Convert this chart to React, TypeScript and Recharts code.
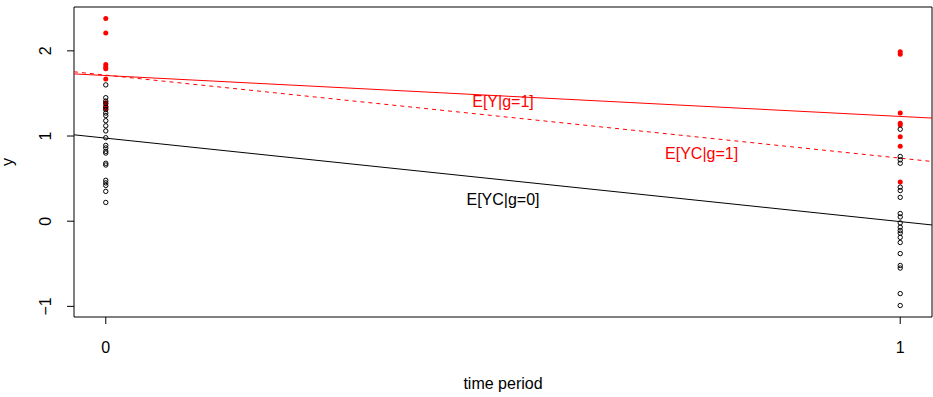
import React from "react";
import {
  ScatterChart,
  Scatter,
  XAxis,
  YAxis,
  ReferenceLine,
  ReferenceArea,
  ReferenceDot,
  Label,
} from "recharts";

// time periods on the x axis
const periods = [0, 1];

// observed outcomes, treated group (g=1)
const treatedAt0 = [2.38, 2.21, 1.84, 1.81, 1.79, 1.67, 1.39, 1.35, 1.32];
const treatedAt1 = [1.99, 1.96, 1.27, 1.15, 1.13, 0.99, 0.88, 0.46];

// observed outcomes, control group (g=0)
const controlAt0 = [
  1.6, 1.45, 1.41, 1.38, 1.34, 1.31, 1.27, 1.24, 1.18, 1.12, 1.06, 0.98,
  0.89, 0.86, 0.82, 0.8, 0.68, 0.66, 0.48, 0.45, 0.42, 0.35, 0.22,
];
const controlAt1 = [
  1.08, 0.76, 0.72, 0.68, 0.4, 0.36, 0.28, 0.09, 0.05, -0.02, -0.07, -0.11,
  -0.14, -0.19, -0.25, -0.38, -0.52, -0.55, -0.85, -0.99,
];

// fitted lines: E[Y|g=1], E[YC|g=1], E[YC|g=0]
const lineNames = ["E[Y|g=1]", "E[YC|g=1]", "E[YC|g=0]"];
const lineIntercepts = [1.71, 1.715, 0.975];
const lineSlopes = [-0.48, -0.975, -0.98];
const labelX = [0.5, 0.75, 0.5];
const labelY = [1.4, 0.8, 0.25];

const yTicks = [-1, 0, 1, 2];

// R-style axis limits (data range padded by 4%)
const allY = [...treatedAt0, ...treatedAt1, ...controlAt0, ...controlAt1];
const yLo = Math.min(...allY);
const yHi = Math.max(...allY);
const yPad = (yHi - yLo) * 0.04;
const yDomain: [number, number] = [yLo - yPad, yHi + yPad];
const xPad = (periods[1] - periods[0]) * 0.04;
const xDomain: [number, number] = [periods[0] - xPad, periods[1] + xPad];

const toPoints = (vals: number[], t: number) => vals.map((y) => ({ x: t, y }));
const treatedPoints = [...toPoints(treatedAt0, periods[0]), ...toPoints(treatedAt1, periods[1])];
const controlPoints = [...toPoints(controlAt0, periods[0]), ...toPoints(controlAt1, periods[1])];

const FONT = "'Liberation Sans', Arial, Helvetica, sans-serif";
const lineColors = ["#ff0000", "#ff0000", "#000000"];
const lineDash = [undefined, "4 4", undefined];

const OpenDot = (p: any) => (
  <circle cx={p.cx} cy={p.cy} r={2.2} fill="none" stroke="#000" strokeWidth={1} />
);
const RedDot = (p: any) => <circle cx={p.cx} cy={p.cy} r={2.5} fill="#ff0000" />;

const XTick = ({ x, y, payload }: any) => (
  <text x={x} y={y + 27} textAnchor="middle" fontSize={16} fontFamily={FONT} fill="#000">
    {payload.value}
  </text>
);

const YTick = ({ x, y, payload }: any) => {
  const bx = x - 13.5;
  return (
    <text
      x={bx}
      y={y}
      textAnchor="middle"
      transform={`rotate(-90, ${bx}, ${y})`}
      fontSize={16}
      fontFamily={FONT}
      fill="#000"
    >
      {String(payload.value).replace("-", "\u2212")}
    </text>
  );
};

const YLabel = ({ viewBox }: any) => {
  const cx = 13;
  const cy = viewBox.y + viewBox.height / 2;
  return (
    <text
      x={cx}
      y={cy}
      textAnchor="middle"
      transform={`rotate(-90, ${cx}, ${cy})`}
      fontSize={16}
      fontFamily={FONT}
      fill="#000"
    >
      y
    </text>
  );
};

export default function App() {
  return (
    <div style={{ position: "absolute", left: 0, top: 0, background: "#fff" }}>
      <ScatterChart
        width={933}
        height={397}
        margin={{ top: 7, right: 1, bottom: 0, left: 0 }}
        style={{ fontFamily: FONT }}
      >
        <XAxis
          dataKey="x"
          type="number"
          domain={xDomain}
          ticks={periods}
          allowDataOverflow
          axisLine={false}
          tickSize={7}
          tickMargin={2}
          tickLine={{ stroke: "#000" }}
          tick={<XTick />}
          height={80}
        >
          <Label
            value="time period"
            position="insideBottom"
            offset={8}
            fontSize={16}
            fontFamily={FONT}
            fill="#000"
          />
        </XAxis>
        <YAxis
          dataKey="y"
          type="number"
          domain={yDomain}
          ticks={yTicks}
          allowDataOverflow
          axisLine={false}
          tickSize={7}
          tickMargin={2}
          tickLine={{ stroke: "#000" }}
          tick={<YTick />}
          width={74}
        >
          <Label content={<YLabel />} />
        </YAxis>
        <ReferenceArea
          x1={xDomain[0]}
          x2={xDomain[1]}
          y1={yDomain[0]}
          y2={yDomain[1]}
          fill="none"
          fillOpacity={0}
          stroke="#000"
          strokeWidth={1}
        />
        <Scatter data={treatedPoints} shape={RedDot} isAnimationActive={false} />
        <Scatter data={controlPoints} shape={OpenDot} isAnimationActive={false} />
        {lineNames.map((name, i) => (
          <ReferenceLine
            key={name}
            segment={[
              { x: xDomain[0], y: lineIntercepts[i] + lineSlopes[i] * xDomain[0] },
              { x: xDomain[1], y: lineIntercepts[i] + lineSlopes[i] * xDomain[1] },
            ]}
            stroke={lineColors[i]}
            strokeWidth={1}
            strokeDasharray={lineDash[i]}
          />
        ))}
        {lineNames.map((name, i) => (
          <ReferenceDot
            key={"lbl" + name}
            x={labelX[i]}
            y={labelY[i]}
            r={0}
            shape={(p: any) => (
              <text
                x={p.cx}
                y={p.cy}
                textAnchor="middle"
                dominantBaseline="central"
                fontSize={16}
                fontFamily={FONT}
                fill={lineColors[i]}
              >
                {name}
              </text>
            )}
          />
        ))}
      </ScatterChart>
    </div>
  );
}
